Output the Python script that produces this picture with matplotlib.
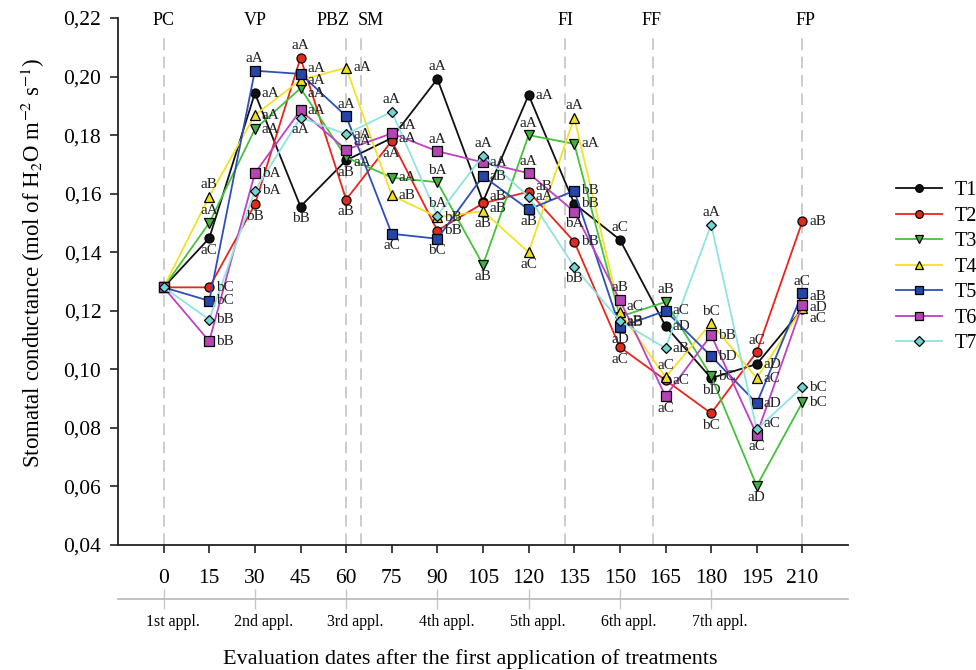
import matplotlib
matplotlib.use("Agg")
import matplotlib.pyplot as plt
import matplotlib.transforms as mtransforms

plt.rcParams['font.family'] = ['Liberation Serif', 'DejaVu Serif']
plt.rcParams['mathtext.fontset'] = 'stix'

days = [0, 15, 30, 45, 60, 75, 90, 105, 120, 135, 150, 165, 180, 195, 210]
treatments = ['T1', 'T2', 'T3', 'T4', 'T5', 'T6', 'T7']

T1 = [0.128, 0.1448, 0.1943, 0.1556, 0.1714, 0.179, 0.1992, 0.1573, 0.1937, 0.1566, 0.1443, 0.1148, 0.0970, 0.1018, 0.1206]
T2 = [0.128, 0.1280, 0.1563, 0.2064, 0.1580, 0.178, 0.1474, 0.1567, 0.1607, 0.1436, 0.1076, 0.0963, 0.0850, 0.1059, 0.1505]
T3 = [0.128, 0.1500, 0.1820, 0.1960, 0.1724, 0.1655, 0.1639, 0.1357, 0.1800, 0.1770, 0.1180, 0.1230, 0.0977, 0.0602, 0.0887]
T4 = [0.128, 0.1590, 0.1868, 0.1988, 0.2030, 0.1594, 0.1520, 0.1540, 0.1400, 0.1860, 0.1196, 0.0973, 0.1158, 0.0970, 0.1210]
T5 = [0.128, 0.1234, 0.2020, 0.2009, 0.1865, 0.1463, 0.1446, 0.1660, 0.1546, 0.1610, 0.1144, 0.1200, 0.1045, 0.0884, 0.1260]
T6 = [0.128, 0.1096, 0.1670, 0.1885, 0.1750, 0.1806, 0.1745, 0.1707, 0.1670, 0.1539, 0.1237, 0.0908, 0.1117, 0.0777, 0.1220]
T7 = [0.128, 0.1170, 0.1610, 0.1860, 0.1803, 0.1880, 0.1525, 0.1730, 0.1590, 0.1350, 0.1165, 0.1072, 0.1494, 0.0795, 0.0939]

# Letter groups (from day 15 onward) and their placement
# r=right, ru/ru2=right-up, rd/rd2=right-down, a=above, b=below
L1 = ['aC', 'aA', 'bB', 'aB', 'aA', 'aA', 'aB', 'aA', 'bB', 'aC', 'aD', 'bD', 'aD', 'aC']
P1 = ['b', 'r', 'b', 'b', 'r', 'a', 'ru', 'r', 'r', 'a', 'r', 'b', 'r', 'rd2']
L2 = ['bC', 'bB', 'aA', 'aB', 'aA', 'bB', 'aB', 'aB', 'bB', 'aC', 'aC', 'bC', 'aC', 'aB']
P2 = ['r', 'b', 'a', 'b', 'b', 'r', 'rd', 'ru', 'r', 'b', 'r', 'b', 'a', 'r']
L3 = ['aA', 'aA', 'aA', 'aA', 'aA', 'bA', 'aB', 'aA', 'aA', 'aB', 'aB', 'bC', 'aD', 'bC']
P3 = ['a', 'r', 'rd', 'rd', 'r', 'a', 'b', 'a', 'r', 'rd', 'a', 'r', 'b', 'r']
L4 = ['aB', 'aA', 'aA', 'aA', 'aB', 'bB', 'aB', 'aC', 'aA', 'aC', 'aC', 'bC', 'aC', 'aD']
P4 = ['a', 'r', 'r', 'r', 'r', 'r', 'b', 'b', 'a', 'ru', 'a', 'a', 'r', 'r']
L5 = ['bC', 'aA', 'aA', 'aA', 'aC', 'bC', 'aB', 'aB', 'bB', 'aD', 'aC', 'bD', 'aD', 'aC']
P5 = ['r', 'a', 'ru', 'a', 'b', 'b', 'r', 'b', 'r', 'b', 'r', 'r', 'r', 'a']
L6 = ['bB', 'bA', 'aA', 'aA', 'aA', 'aA', 'aA', 'aA', 'bA', 'aB', 'aC', 'bB', 'aC', 'aB']
P6 = ['r', 'r', 'r', 'ru2', 'ru2', 'a', 'r', 'a', 'b', 'a', 'b', 'r', 'b', 'ru2']
L7 = ['bB', 'bA', 'aA', 'aA', 'aA', 'bA', 'aA', 'aA', 'bB', 'aB', 'aB', 'aA', 'aC', 'bC']
P7 = ['r', 'r', 'b', 'r', 'a', 'a', 'a', 'r', 'b', 'r', 'r', 'a', 'ru', 'r']

events = ['PC', 'PBZ', 'SM', 'FI', 'FF', 'FP']
event_days = [0, 60, 65, 132, 161, 210]
event_label_x = [0, 55.6, 68.0, 132, 160.5, 211]
vp_label_x = 30

appl_labels = ['1st appl.', '2nd appl.', '3rd appl.', '4th appl.', '5th appl.', '6th appl.', '7th appl.']
appl_days = [0, 30, 60, 90, 120, 150, 180]

series = [T1, T2, T3, T4, T5, T6, T7]
letters = [L1, L2, L3, L4, L5, L6, L7]
places = [P1, P2, P3, P4, P5, P6, P7]
line_colors = ['#111111', '#e8251c', '#45c23c', '#f2e226', '#2e4fb8', '#c040c4', '#8fe3e0']
face_colors = ['#111111', '#e02a1e', '#3fb23a', '#f0e020', '#2545a8', '#b544b5', '#6fd6d4']
markers = ['o', 'o', 'v', '^', 's', 's', 'D']
msizes = [6.5, 6.5, 7, 7, 6.5, 6.5, 5.5]

fig = plt.figure(figsize=(9.76, 6.70), dpi=100)
ax = fig.add_axes([118/976, 1 - 545/670, (848 - 118)/976, (545 - 18)/670])

for ed in event_days:
    ax.plot([ed, ed], [0.04, 0.214], color='#c4c4c4', lw=1.2, ls=(0, (7, 4)), zorder=1)

offsets = {
    'r': ((5, 0), 'left', 'center'),
    'ru': ((5, 4), 'left', 'center'),
    'ru2': ((5, 6), 'left', 'center'),
    'rd': ((5, -4), 'left', 'center'),
    'rd2': ((5, -7), 'left', 'center'),
    'a': ((0, 4), 'center', 'bottom'),
    'b': ((0, -4), 'center', 'top'),
}

for i, name in enumerate(treatments):
    ax.plot(days, series[i], color=line_colors[i], lw=1.3, marker=markers[i],
            markersize=msizes[i], markerfacecolor=face_colors[i], markeredgecolor='black',
            markeredgewidth=0.9, label=name, zorder=3 + i)
    for j in range(1, len(days)):
        off, ha, va = offsets[places[i][j - 1]]
        ax.annotate(letters[i][j - 1], (days[j], series[i][j]), xytext=off,
                    textcoords='offset points', ha=ha, va=va, fontsize=11,
                    color='#222222', zorder=20)

ax.text(vp_label_x, 0.219, 'VP', ha='center', va='center', fontsize=13)
for lab, lx in zip(events, event_label_x):
    ax.text(lx, 0.219, lab, ha='center', va='center', fontsize=13)

ax.set_xlim(-15, 225)
ax.set_ylim(0.04, 0.22)
ax.set_xticks(days)
ax.set_xticklabels([str(d) for d in days], fontsize=15.5)
yt = [0.04 + 0.02 * k for k in range(10)]
ax.set_yticks(yt)
ax.set_yticklabels([f'{v:.2f}'.replace('.', ',') for v in yt], fontsize=15.5)
ax.tick_params(axis='both', direction='out', length=6, width=1.2, color='#222222')
ax.tick_params(axis='x', pad=11)
ax.tick_params(axis='y', pad=6)
for s in ['top', 'right']:
    ax.spines[s].set_visible(False)
for s in ['left', 'bottom']:
    ax.spines[s].set_linewidth(1.3)
    ax.spines[s].set_color('#222222')

# secondary application axis
sec = ax.secondary_xaxis(-54 / 527)
sec.set_xticks(appl_days)
sec.set_xticklabels([''] * len(appl_days))
sec.spines['bottom'].set_color('#b8b8b8')
sec.spines['bottom'].set_linewidth(1.2)
sec.tick_params(axis='x', direction='inout', length=14, width=1.0, color='#c8c8c8')

trans = mtransforms.blended_transform_factory(ax.transData, ax.transAxes)
for lab, d in zip(appl_labels, appl_days):
    ax.text(d + 3, -77 / 527, lab, transform=trans, ha='center', va='center', fontsize=11.5)

fig.text(470 / 976, 1 - 659 / 670, 'Evaluation dates after the first application of treatments',
         ha='center', va='center', fontsize=16)
fig.text(33 / 976, 1 - 263 / 670, 'Stomatal conductance (mol of H$_2$O m$^{-2}$ s$^{-1}$)',
         ha='center', va='center', rotation=90, fontsize=16.5)

leg = ax.legend(loc='upper left', bbox_to_anchor=(896 / 976, 1 - 181 / 670),
                bbox_transform=fig.transFigure, frameon=False, fontsize=14.5,
                handlelength=2.3, handletextpad=0.6, labelspacing=0.32, borderpad=0,
                borderaxespad=0, markerscale=0.85)

fig.savefig('out.png', dpi=100)
